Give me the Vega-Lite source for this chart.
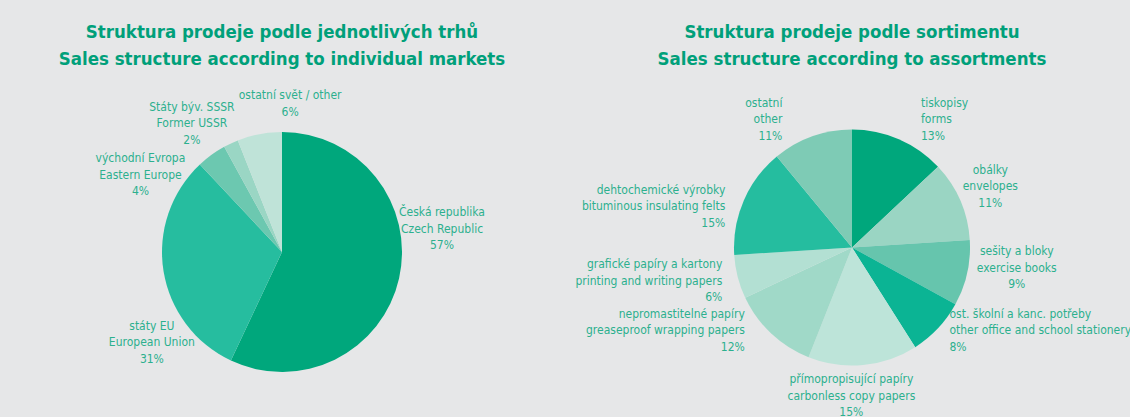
{
  "$schema": "https://vega.github.io/schema/vega-lite/v6.json",
  "background": "#e6e7e8",
  "padding": {"top": 23, "left": 0, "right": 0, "bottom": 0},
  "spacing": 10,
  "bounds": "flush",
  "resolve": {"scale": {"color": "independent", "theta": "independent"}},
  "config": {
    "view": {"stroke": null},
    "title": {"font": "DejaVu Sans Condensed, DejaVu Sans, sans-serif", "fontWeight": "bold", "fontSize": 18.5, "lineHeight": 26.5, "color": "#00a07a", "anchor": "middle", "offset": 21},
    "text": {"font": "DejaVu Sans Condensed, DejaVu Sans, sans-serif", "fontSize": 12, "lineHeight": 16.5, "color": "#2cb08e", "baseline": "middle", "lineBreak": "\n"}
  },
  "datasets": {
    "markets": [
      {"i": 1, "cat": "cz", "pct": 57, "label": "Česká republika\nCzech Republic\n57%"},
      {"i": 2, "cat": "eu", "pct": 31, "label": "státy EU\nEuropean Union\n31%"},
      {"i": 3, "cat": "ee", "pct": 4, "label": "východní Evropa\nEastern Europe\n4%"},
      {"i": 4, "cat": "ussr", "pct": 2, "label": "Státy býv. SSSR\nFormer USSR\n2%"},
      {"i": 5, "cat": "oth", "pct": 6, "label": "ostatní svět / other\n6%"}
    ],
    "assort": [
      {"i": 1, "cat": "forms", "pct": 13, "label": "tiskopisy\nforms\n13%"},
      {"i": 2, "cat": "env", "pct": 11, "label": "obálky\nenvelopes\n11%"},
      {"i": 3, "cat": "ex", "pct": 9, "label": "sešity a bloky\nexercise books\n9%"},
      {"i": 4, "cat": "stat", "pct": 8, "label": "ost. školní a kanc. potřeby\nother office and school stationery\n8%"},
      {"i": 5, "cat": "carb", "pct": 15, "label": "přímopropisující papíry\ncarbonless copy papers\n15%"},
      {"i": 6, "cat": "grease", "pct": 12, "label": "nepromastitelné papíry\ngreaseproof wrapping papers\n12%"},
      {"i": 7, "cat": "print", "pct": 6, "label": "grafické papíry a kartony\nprinting and writing papers\n6%"},
      {"i": 8, "cat": "bit", "pct": 15, "label": "dehtochemické výrobky\nbituminous insulating felts\n15%"},
      {"i": 9, "cat": "oth2", "pct": 11, "label": "ostatní\nother\n11%"}
    ]
  },
  "hconcat": [
    {
      "width": 564,
      "height": 326,
      "title": {"text": ["Struktura prodeje podle jednotlivých trhů", "Sales structure according to individual markets"]},
      "data": {"name": "markets"},
      "layer": [
        {"mark": {"type": "arc", "outerRadius": 120}, "encoding": {
          "theta": {"field": "pct", "type": "quantitative", "stack": true, "scale": {"domain": [0, 100]}},
          "order": {"field": "i", "type": "quantitative"},
          "color": {"field": "cat", "type": "nominal", "legend": null, "scale": {"domain": ["cz", "eu", "ee", "ussr", "oth"], "range": ["#00a77c", "#26bd9f", "#6cc8b0", "#9ad6c4", "#bfe3d8"]}}}},
        {"transform": [{"stack": "pct", "groupby": [], "sort": [{"field": "i", "order": "ascending"}], "as": ["s0", "s1"]}, {"filter": "datum.cat === 'cz'"}],
         "mark": {"type": "text", "radius": 160, "align": "center", "dx": 160, "dy": 120},
         "encoding": {"theta": {"field": "s0", "type": "quantitative", "stack": null, "scale": {"domain": [0, 100]}}, "text": {"field": "label"}}},
        {"transform": [{"stack": "pct", "groupby": [], "sort": [{"field": "i", "order": "ascending"}], "as": ["s0", "s1"]}, {"filter": "datum.cat === 'eu'"}],
         "mark": {"type": "text", "radius": 160, "align": "center", "dx": -62, "dy": -71},
         "encoding": {"theta": {"field": "s0", "type": "quantitative", "stack": null, "scale": {"domain": [0, 100]}}, "text": {"field": "label"}}},
        {"transform": [{"stack": "pct", "groupby": [], "sort": [{"field": "i", "order": "ascending"}], "as": ["s0", "s1"]}, {"filter": "datum.cat === 'ee'"}],
         "mark": {"type": "text", "radius": 160, "align": "center", "dx": -32, "dy": 23},
         "encoding": {"theta": {"field": "s0", "type": "quantitative", "stack": null, "scale": {"domain": [0, 100]}}, "text": {"field": "label"}}},
        {"transform": [{"stack": "pct", "groupby": [], "sort": [{"field": "i", "order": "ascending"}], "as": ["s0", "s1"]}, {"filter": "datum.cat === 'ussr'"}],
         "mark": {"type": "text", "radius": 160, "align": "center", "dx": -13, "dy": -5},
         "encoding": {"theta": {"field": "s0", "type": "quantitative", "stack": null, "scale": {"domain": [0, 100]}}, "text": {"field": "label"}}},
        {"transform": [{"stack": "pct", "groupby": [], "sort": [{"field": "i", "order": "ascending"}], "as": ["s0", "s1"]}, {"filter": "datum.cat === 'oth'"}],
         "mark": {"type": "text", "radius": 160, "align": "center", "dx": 67, "dy": -8},
         "encoding": {"theta": {"field": "s0", "type": "quantitative", "stack": null, "scale": {"domain": [0, 100]}}, "text": {"field": "label"}}}
      ]
    },
    {
      "width": 556,
      "height": 317,
      "title": {"text": ["Struktura prodeje podle sortimentu", "Sales structure according to assortments"]},
      "data": {"name": "assort"},
      "layer": [
        {"mark": {"type": "arc", "outerRadius": 118}, "encoding": {
          "theta": {"field": "pct", "type": "quantitative", "stack": true, "scale": {"domain": [0, 100]}},
          "order": {"field": "i", "type": "quantitative"},
          "color": {"field": "cat", "type": "nominal", "legend": null, "scale": {"domain": ["forms", "env", "ex", "stat", "carb", "grease", "print", "bit", "oth2"], "range": ["#00a77c", "#9ad5c3", "#66c5ad", "#0bb494", "#bde4d9", "#a0d9c8", "#b3e0d3", "#25bd9f", "#7ecbb5"]}}}},
        {"transform": [{"stack": "pct", "groupby": [], "sort": [{"field": "i", "order": "ascending"}], "as": ["s0", "s1"]}, {"filter": "datum.cat === 'forms'"}],
         "mark": {"type": "text", "radius": 150, "align": "left", "dx": 69, "dy": 5},
         "encoding": {"theta": {"field": "s0", "type": "quantitative", "stack": null, "scale": {"domain": [0, 100]}}, "text": {"field": "label"}}},
        {"transform": [{"stack": "pct", "groupby": [], "sort": [{"field": "i", "order": "ascending"}], "as": ["s0", "s1"]}, {"filter": "datum.cat === 'env'"}],
         "mark": {"type": "text", "radius": 150, "align": "center", "dx": 29, "dy": 25},
         "encoding": {"theta": {"field": "s0", "type": "quantitative", "stack": null, "scale": {"domain": [0, 100]}}, "text": {"field": "label"}}},
        {"transform": [{"stack": "pct", "groupby": [], "sort": [{"field": "i", "order": "ascending"}], "as": ["s0", "s1"]}, {"filter": "datum.cat === 'ex'"}],
         "mark": {"type": "text", "radius": 150, "align": "center", "dx": 15, "dy": 13},
         "encoding": {"theta": {"field": "s0", "type": "quantitative", "stack": null, "scale": {"domain": [0, 100]}}, "text": {"field": "label"}}},
        {"transform": [{"stack": "pct", "groupby": [], "sort": [{"field": "i", "order": "ascending"}], "as": ["s0", "s1"]}, {"filter": "datum.cat === 'stat'"}],
         "mark": {"type": "text", "radius": 150, "align": "left", "dx": -34, "dy": -6},
         "encoding": {"theta": {"field": "s0", "type": "quantitative", "stack": null, "scale": {"domain": [0, 100]}}, "text": {"field": "label"}}},
        {"transform": [{"stack": "pct", "groupby": [], "sort": [{"field": "i", "order": "ascending"}], "as": ["s0", "s1"]}, {"filter": "datum.cat === 'carb'"}],
         "mark": {"type": "text", "radius": 150, "align": "center", "dx": -81, "dy": 5},
         "encoding": {"theta": {"field": "s0", "type": "quantitative", "stack": null, "scale": {"domain": [0, 100]}}, "text": {"field": "label"}}},
        {"transform": [{"stack": "pct", "groupby": [], "sort": [{"field": "i", "order": "ascending"}], "as": ["s0", "s1"]}, {"filter": "datum.cat === 'grease'"}],
         "mark": {"type": "text", "radius": 150, "align": "right", "dx": -52, "dy": -73},
         "encoding": {"theta": {"field": "s0", "type": "quantitative", "stack": null, "scale": {"domain": [0, 100]}}, "text": {"field": "label"}}},
        {"transform": [{"stack": "pct", "groupby": [], "sort": [{"field": "i", "order": "ascending"}], "as": ["s0", "s1"]}, {"filter": "datum.cat === 'print'"}],
         "mark": {"type": "text", "radius": 150, "align": "right", "dx": 6, "dy": -47},
         "encoding": {"theta": {"field": "s0", "type": "quantitative", "stack": null, "scale": {"domain": [0, 100]}}, "text": {"field": "label"}}},
        {"transform": [{"stack": "pct", "groupby": [], "sort": [{"field": "i", "order": "ascending"}], "as": ["s0", "s1"]}, {"filter": "datum.cat === 'bit'"}],
         "mark": {"type": "text", "radius": 150, "align": "right", "dx": 23, "dy": -67},
         "encoding": {"theta": {"field": "s0", "type": "quantitative", "stack": null, "scale": {"domain": [0, 100]}}, "text": {"field": "label"}}},
        {"transform": [{"stack": "pct", "groupby": [], "sort": [{"field": "i", "order": "ascending"}], "as": ["s0", "s1"]}, {"filter": "datum.cat === 'oth2'"}],
         "mark": {"type": "text", "radius": 150, "align": "right", "dx": 26, "dy": -29},
         "encoding": {"theta": {"field": "s0", "type": "quantitative", "stack": null, "scale": {"domain": [0, 100]}}, "text": {"field": "label"}}}
      ]
    }
  ]
}
